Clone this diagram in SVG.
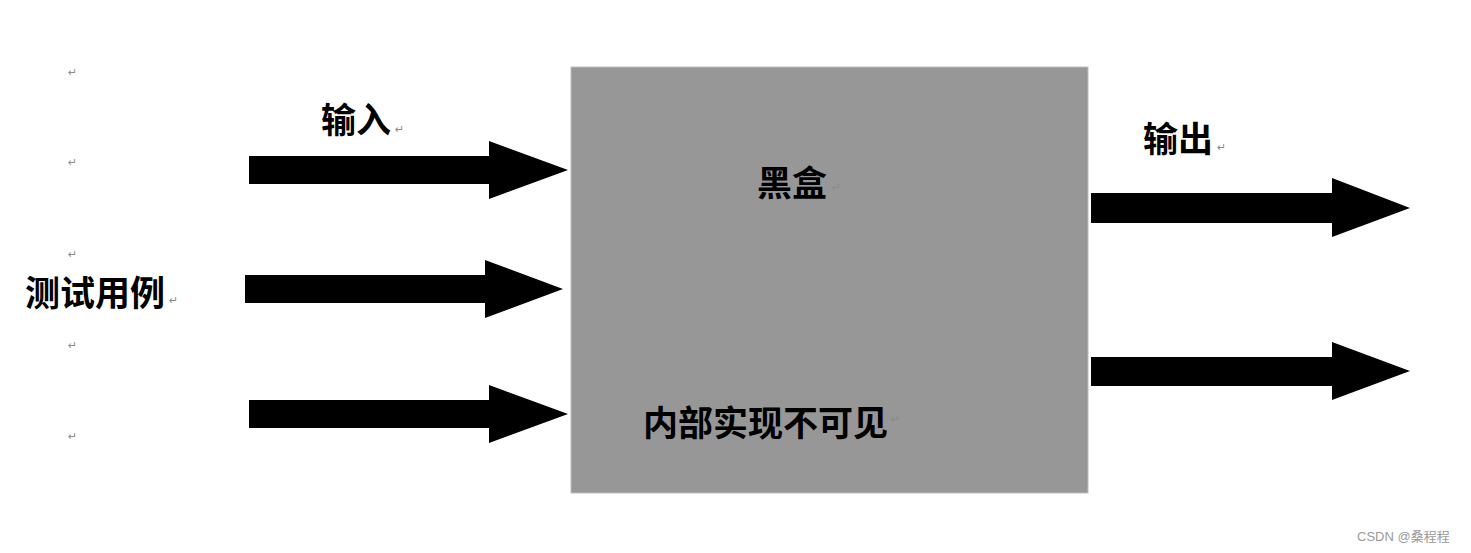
<svg xmlns="http://www.w3.org/2000/svg" width="1471" height="553" viewBox="0 0 1471 553">
<style>
.lbl{font-family:"Noto Sans CJK SC","Noto Sans",sans-serif;font-weight:bold;font-size:35px;fill:#000}
.pm{font-family:"DejaVu Sans",sans-serif;font-size:11px;fill:#8a8a8a}
.arr{fill:#000}
.wm{font-family:"Liberation Sans","Noto Sans CJK SC",sans-serif;font-size:13px;fill:#9a9a9a}
</style>
<rect width="1471" height="553" fill="#fff"/>
<g id="blackbox">
<rect x="571" y="67" width="517" height="426" fill="#979797" stroke="#bdbdbd" stroke-width="1"/>
<text class="lbl" x="757" y="196">黑盒</text>
<text class="pm" x="832" y="191">↵</text>
<text class="lbl" x="643" y="436">内部实现不可见</text>
<text class="pm" x="891" y="423">↵</text>
</g>
<g id="testcases">
<text class="lbl" x="25" y="306">测试用例</text>
<text class="pm" x="169" y="304">↵</text>
<text class="pm" x="68" y="76">↵</text>
<text class="pm" x="68" y="166">↵</text>
<text class="pm" x="68" y="258">↵</text>
<text class="pm" x="68" y="349">↵</text>
<text class="pm" x="68" y="440">↵</text>
</g>
<g id="input-label">
<text class="lbl" x="321" y="133">输入</text>
<text class="pm" x="395" y="133">↵</text>
</g>
<g id="output-label">
<text class="lbl" x="1143" y="152">输出</text>
<text class="pm" x="1217" y="151">↵</text>
</g>
<g id="connectors">
<polygon class="arr" points="249,156 489,156 489,141 568,170 489,199 489,184 249,184"/>
<polygon class="arr" points="245,275 485,275 485,260 563,289 485,318 485,303 245,303"/>
<polygon class="arr" points="249,400 489,400 489,385 568,414 489,443 489,428 249,428"/>
<polygon class="arr" points="1091,193 1332,193 1332,178 1410,208 1332,237 1332,223 1091,223"/>
<polygon class="arr" points="1091,357 1332,357 1332,342 1410,371 1332,400 1332,386 1091,386"/>
</g>
<text class="wm" x="1357" y="541">CSDN @桑程程</text>
</svg>
